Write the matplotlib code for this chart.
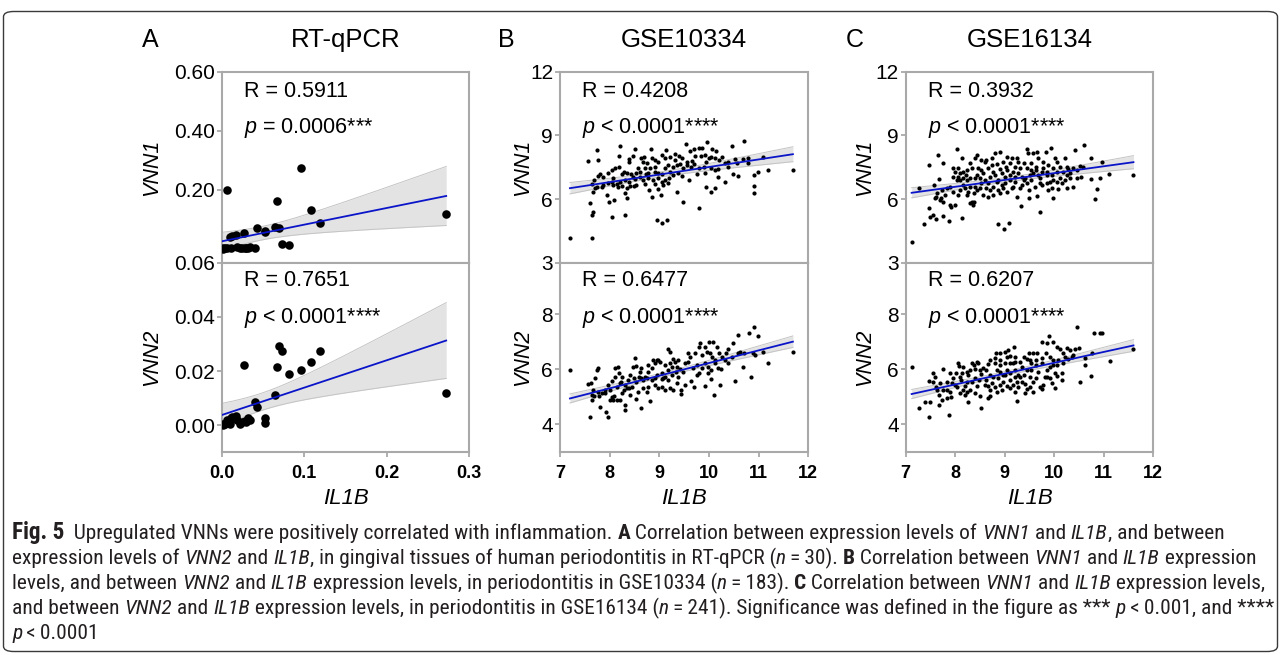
import numpy as np
import matplotlib
matplotlib.use("Agg")
import matplotlib.pyplot as plt
from matplotlib import font_manager
from matplotlib.patches import FancyBboxPatch

plt.rcParams['font.family'] = ['Liberation Sans', 'DejaVu Sans']
plt.rcParams['mathtext.fontset'] = 'custom'
plt.rcParams['mathtext.it'] = 'Liberation Sans:italic'
plt.rcParams['mathtext.rm'] = 'Liberation Sans'

# ---------------- data ----------------
panel_letters = ["A", "B", "C"]
panel_titles = ["RT-qPCR", "GSE10334", "GSE16134"]
r_top = ["R = 0.5911", "R = 0.4208", "R = 0.3932"]
p_top = ["$p$ = 0.0006***", "$p$ < 0.0001****", "$p$ < 0.0001****"]
r_bot = ["R = 0.7651", "R = 0.6477", "R = 0.6207"]
p_bot = ["$p$ < 0.0001****", "$p$ < 0.0001****", "$p$ < 0.0001****"]

# Panel A (RT-qPCR, n = 30)
il1b_a = [0.001, 0.004, 0.006, 0.007, 0.010, 0.011, 0.013, 0.017, 0.018, 0.022,
          0.027, 0.028, 0.029, 0.032, 0.034, 0.040, 0.043, 0.052, 0.053, 0.064,
          0.067, 0.070, 0.073, 0.081, 0.096, 0.108, 0.119, 0.272, 0.002, 0.025]
vnn1_a = [0.003, 0.005, 0.004, 0.200, 0.042, 0.003, 0.045, 0.048, 0.006, 0.003,
          0.056, 0.003, 0.005, 0.003, 0.008, 0.004, 0.071, 0.059, 0.062, 0.076,
          0.163, 0.071, 0.018, 0.013, 0.273, 0.132, 0.089, 0.120, 0.002, 0.004]
vnn2_a = [0.0000, 0.0003, 0.0018, 0.0010, 0.0006, 0.0027, 0.0030, 0.0033, 0.0020, 0.0006,
          0.0223, 0.0015, 0.0010, 0.0027, 0.0020, 0.0086, 0.0067, 0.0028, 0.0009, 0.0110,
          0.0215, 0.0292, 0.0274, 0.0190, 0.0202, 0.0233, 0.0274, 0.0117, 0.0005, 0.0012]

# Panel B top (GSE10334: IL1B, VNN1)
gse10334_vnn1 = [
    (8.21, 8.52), (8.51, 8.36), (8.83, 8.36), (9.13, 8.31), (9.54, 8.58), (9.70, 8.36), (9.80, 8.39),
    (9.85, 8.42), (9.97, 8.67), (10.07, 8.36), (10.14, 8.28), (10.47, 8.52), (10.71, 8.74), (7.74, 8.31),
    (7.57, 7.81), (7.76, 7.84), (8.18, 8.05), (8.39, 7.89), (8.38, 7.76), (8.48, 8.05), (8.70, 8.00),
    (8.68, 7.76), (8.85, 7.92), (8.91, 7.84), (9.05, 8.08), (9.11, 7.95), (9.22, 8.00), (9.32, 8.11),
    (9.40, 8.05), (9.45, 7.95), (9.62, 8.27), (9.65, 7.79), (9.72, 8.05), (9.83, 8.05), (9.92, 8.08),
    (10.00, 7.92), (10.05, 8.00), (10.12, 7.95), (10.20, 7.84), (10.26, 8.00), (10.32, 7.68), (10.39, 7.76),
    (10.52, 7.89), (10.68, 7.89), (10.78, 7.92), (11.09, 8.00), (10.39, 7.53), (10.56, 7.68), (10.79, 7.68),
    (8.11, 7.48), (8.18, 7.53), (8.28, 7.29), (8.34, 7.21), (8.43, 7.17), (8.54, 7.21), (8.61, 7.29),
    (8.71, 7.45), (8.73, 7.17), (8.81, 7.45), (8.91, 7.53), (8.98, 7.21), (9.05, 7.17), (9.11, 7.45),
    (9.22, 7.29), (9.28, 7.53), (9.35, 7.61), (9.42, 7.64), (9.48, 7.45), (9.55, 7.61), (9.63, 7.53),
    (9.69, 7.64), (9.79, 7.48), (9.89, 7.53), (9.95, 7.73), (10.04, 7.45), (10.12, 7.37), (10.19, 7.42),
    (8.04, 7.37), (7.97, 7.21), (7.87, 7.06), (7.77, 7.10), (7.69, 6.90), (7.65, 6.70), (7.67, 6.35),
    (7.74, 6.59), (7.84, 6.59), (7.96, 6.74), (8.04, 6.79), (8.14, 6.70), (8.21, 6.82), (8.31, 6.90),
    (8.39, 6.79), (8.51, 6.95), (8.61, 7.06), (8.68, 6.90), (8.78, 6.98), (8.88, 6.90), (8.98, 6.98),
    (9.05, 6.82), (9.11, 6.90), (9.20, 6.98), (9.28, 7.14), (9.38, 7.21), (9.45, 7.10), (9.60, 6.90),
    (9.75, 7.17), (9.92, 7.21), (9.95, 6.59), (10.04, 6.35), (10.13, 6.54), (10.19, 7.06), (10.32, 6.79),
    (10.49, 7.17), (10.59, 7.10), (10.91, 7.14), (10.99, 7.29), (11.18, 7.37), (11.69, 7.37), (10.90, 6.62),
    (10.91, 6.27), (8.07, 6.66), (8.16, 6.59), (8.34, 6.51), (8.31, 6.27), (8.34, 6.04), (8.50, 6.63),
    (8.54, 6.66), (8.71, 6.70), (8.79, 6.43), (8.85, 6.11), (8.91, 6.70), (8.98, 6.48), (9.03, 6.19),
    (9.08, 6.66), (9.18, 6.74), (9.35, 6.35), (9.48, 5.88), (9.79, 5.57), (7.94, 6.19), (7.99, 5.88),
    (8.09, 5.96), (7.60, 5.80), (7.67, 5.38), (7.65, 5.25), (8.05, 5.17), (8.31, 5.25), (8.95, 5.02),
    (9.05, 4.86), (9.15, 5.02), (7.20, 4.15), (7.65, 4.18), (7.81, 7.17), (8.24, 7.17), (8.78, 7.21),
    (8.91, 7.29), (8.58, 7.48), (8.75, 7.68), (8.98, 7.76), (9.18, 7.61), (9.32, 7.84), (9.55, 7.76),
    (8.64, 7.92), (8.46, 7.06), (8.24, 6.62), (8.41, 6.63), (8.07, 6.98), (7.87, 6.66), (7.71, 6.51),
]

# Panel B bottom (GSE10334: IL1B, VNN2)
gse10334_vnn2 = [
    (7.20, 5.99), (10.91, 7.53), (10.81, 7.31), (10.99, 7.21), (10.58, 7.25), (11.09, 6.64), (11.69, 6.64),
    (11.18, 6.22), (10.84, 5.71), (10.52, 5.59), (10.69, 6.07), (10.93, 6.52), (10.89, 6.61), (10.71, 6.61),
    (10.48, 6.97), (10.38, 6.73), (10.34, 6.58), (10.39, 6.22), (10.26, 6.46), (10.20, 6.58), (10.16, 6.82),
    (10.09, 7.01), (10.00, 7.01), (9.82, 6.94), (9.79, 6.82), (9.91, 6.80), (10.02, 6.58), (9.97, 6.64),
    (10.07, 6.46), (10.12, 6.34), (10.19, 6.04), (10.22, 5.43), (10.11, 5.07), (10.05, 5.64), (9.99, 5.85),
    (9.91, 5.39), (9.79, 5.85), (9.64, 5.59), (9.67, 6.04), (9.75, 6.16), (9.62, 6.46), (9.57, 6.58),
    (9.52, 6.22), (9.48, 5.91), (9.42, 6.00), (9.37, 5.73), (9.38, 6.34), (9.28, 6.36), (9.22, 6.64),
    (9.18, 6.73), (9.25, 6.07), (9.33, 5.91), (9.18, 5.97), (9.11, 6.16), (9.05, 5.85), (9.01, 6.28),
    (8.95, 6.34), (8.91, 6.22), (8.85, 6.04), (8.78, 5.91), (8.71, 5.73), (8.68, 5.61), (8.59, 5.73),
    (8.54, 5.55), (8.46, 6.10), (8.51, 6.40), (8.41, 5.79), (8.36, 5.61), (8.31, 5.43), (8.28, 5.25),
    (8.24, 5.15), (8.21, 5.49), (8.14, 5.35), (8.09, 5.01), (8.05, 4.98), (8.01, 5.25), (8.04, 5.59),
    (8.11, 5.73), (8.18, 5.85), (8.23, 5.55), (8.11, 6.04), (8.16, 6.10), (7.76, 6.04), (7.74, 5.97),
    (7.62, 5.51), (7.57, 5.47), (7.71, 5.67), (7.67, 5.25), (7.65, 5.07), (7.77, 5.19), (7.79, 5.01),
    (7.84, 5.15), (7.91, 5.25), (7.97, 5.43), (8.01, 4.88), (8.07, 4.88), (8.14, 4.88), (8.21, 4.88),
    (8.31, 4.70), (8.31, 4.52), (8.54, 4.91), (8.63, 4.58), (8.81, 4.86), (8.75, 5.19), (8.58, 5.19),
    (8.41, 5.07), (8.38, 5.31), (7.91, 5.13), (7.81, 4.64), (7.92, 4.46), (7.97, 4.28), (7.60, 4.28),
    (7.64, 4.88), (7.69, 5.01), (8.54, 6.12), (8.64, 5.67), (8.85, 5.61), (8.91, 5.43), (8.98, 5.31),
    (9.05, 5.37), (9.11, 5.25), (9.22, 5.31), (9.28, 5.25), (9.44, 5.25), (9.44, 5.10), (9.35, 5.49),
    (9.18, 5.61), (9.08, 5.67), (8.95, 5.79), (8.88, 6.34), (8.98, 6.34), (8.75, 5.67), (8.68, 5.31),
    (8.78, 5.37), (9.25, 5.79), (9.05, 5.64), (9.52, 5.43), (9.69, 5.37), (9.75, 5.79), (9.85, 6.04),
    (9.92, 6.22), (9.99, 6.10), (10.04, 5.97), (10.13, 6.22), (10.24, 6.00), (10.32, 6.34), (10.46, 6.46),
    (10.58, 6.58), (10.62, 6.64), (9.85, 6.52), (9.72, 6.61), (9.58, 6.28), (9.35, 6.10), (9.32, 6.28),
    (9.22, 6.22), (9.11, 5.73), (8.91, 5.67), (8.78, 6.16), (8.64, 6.04), (8.61, 5.91), (8.49, 5.67),
    (8.44, 5.37), (8.34, 5.31), (8.24, 5.73),
]

# Panel C top (GSE16134: IL1B, VNN1)
gse16134_vnn1 = [
    (7.12, 3.96), (7.26, 6.51), (7.37, 4.81), (7.48, 7.61), (7.49, 5.17), (7.48, 5.60), (7.57, 6.66),
    (7.59, 6.04), (7.61, 5.06), (7.66, 8.08), (7.68, 6.95), (7.71, 6.07), (7.76, 7.68), (7.76, 5.88),
    (7.79, 6.19), (7.88, 4.97), (7.91, 5.64), (7.99, 5.72), (8.04, 8.36), (8.13, 7.92), (8.13, 5.09),
    (8.30, 5.80), (8.35, 5.72), (8.29, 7.68), (8.40, 7.92), (8.43, 8.08), (8.63, 7.84), (8.80, 8.16),
    (8.86, 4.81), (8.99, 4.59), (9.09, 4.86), (8.90, 8.23), (9.04, 8.00), (9.24, 7.92), (9.44, 8.36),
    (9.46, 8.16), (9.58, 8.16), (9.66, 8.20), (9.83, 8.20), (9.93, 8.42), (10.01, 7.92), (10.22, 7.92),
    (10.42, 8.31), (10.61, 8.55), (10.75, 7.95), (10.96, 7.76), (11.11, 7.17), (11.60, 7.14), (10.92, 7.01),
    (10.75, 6.95), (10.86, 6.48), (10.82, 6.00), (10.55, 7.06), (10.52, 7.57), (10.38, 7.45), (10.28, 7.42),
    (10.25, 7.53), (10.32, 7.21), (10.45, 6.98), (10.22, 6.90), (10.15, 6.74), (10.25, 6.51), (10.08, 6.48),
    (9.95, 6.51), (9.98, 6.07), (9.88, 6.43), (9.85, 6.74), (9.66, 6.16), (9.48, 6.04), (9.32, 5.68),
    (9.24, 6.11), (9.72, 5.38), (9.75, 7.29), (9.68, 7.14), (9.63, 7.53), (9.54, 7.68), (9.44, 7.45),
    (9.38, 7.68), (9.27, 7.76), (9.21, 7.53), (9.17, 7.29), (9.11, 7.68), (9.02, 7.53), (8.97, 7.76),
    (8.90, 7.42), (8.84, 7.64), (8.74, 7.61), (8.67, 7.48), (8.60, 7.76), (8.53, 7.37), (8.47, 7.45),
    (8.43, 7.14), (8.33, 7.45), (8.23, 7.37), (8.16, 7.29), (8.10, 7.21), (7.99, 7.26), (7.96, 7.06),
    (8.03, 6.90), (8.10, 6.90), (8.16, 6.98), (8.23, 6.90), (8.30, 6.98), (8.40, 6.98), (8.50, 7.01),
    (8.60, 6.90), (8.67, 6.74), (8.70, 7.06), (8.80, 7.14), (8.87, 6.90), (8.94, 7.21), (9.00, 7.06),
    (9.11, 7.14), (9.21, 7.06), (9.27, 7.21), (9.34, 7.06), (9.41, 6.98), (9.51, 7.14), (9.58, 7.21),
    (9.64, 7.37), (9.78, 7.45), (9.88, 7.61), (9.98, 7.45), (10.05, 7.29), (10.12, 7.53), (10.18, 7.29),
    (9.95, 7.14), (9.85, 7.14), (9.71, 6.98), (9.44, 6.74), (9.34, 6.66), (9.21, 6.82), (9.11, 6.90),
    (9.00, 6.74), (8.94, 6.66), (8.87, 6.43), (8.77, 6.59), (8.70, 6.43), (8.67, 6.11), (8.57, 6.19),
    (8.50, 6.51), (8.43, 6.43), (8.37, 6.27), (8.26, 6.35), (8.20, 6.51), (8.10, 6.43), (8.06, 6.19),
    (7.96, 6.35), (7.89, 6.59), (7.83, 6.54), (7.73, 6.43), (7.63, 6.27), (7.61, 6.11), (7.69, 5.96),
    (8.23, 6.19), (8.33, 5.88), (8.77, 6.19), (8.90, 6.27), (9.04, 6.35), (9.14, 6.51), (9.31, 6.51),
    (9.48, 6.43), (9.61, 6.59), (9.75, 6.66), (9.91, 6.82), (10.05, 6.82), (10.32, 6.98), (10.38, 6.59),
    (8.06, 7.06), (8.16, 6.66), (8.30, 6.59), (8.40, 6.59), (8.53, 6.74), (8.63, 6.51), (8.84, 6.82),
    (8.97, 6.51), (9.17, 6.59), (9.38, 6.90), (9.54, 6.90), (9.71, 6.74), (9.85, 7.29), (9.98, 6.90),
    (10.12, 6.98), (10.25, 7.14), (10.45, 7.37), (10.59, 7.53), (7.96, 7.45), (8.06, 7.45), (8.21, 7.14),
    (8.57, 7.21), (8.77, 7.29), (9.04, 7.37), (9.31, 7.45), (9.54, 7.37), (9.78, 7.76), (10.05, 7.76),
    (9.68, 7.92), (9.14, 7.92), (8.74, 7.92), (8.53, 7.84), (7.89, 5.72), (7.56, 5.25), (7.76, 5.22),
    (8.37, 5.88),
]

# Panel C bottom (GSE16134: IL1B, VNN2)
gse16134_vnn2 = [
    (7.12, 6.07), (7.26, 4.58), (7.39, 4.82), (7.48, 4.28), (7.49, 4.82), (7.56, 5.88), (7.48, 5.59),
    (7.56, 5.55), (7.61, 5.34), (7.69, 5.51), (7.75, 6.00), (7.68, 5.07), (7.73, 4.88), (7.68, 4.70),
    (7.88, 4.34), (7.83, 5.25), (7.89, 5.19), (7.91, 4.98), (7.99, 5.43), (8.06, 6.22), (8.08, 6.12),
    (8.02, 5.85), (8.13, 5.88), (8.11, 5.61), (8.16, 5.25), (8.20, 5.07), (8.26, 4.82), (8.33, 6.22),
    (8.37, 6.16), (8.43, 6.28), (8.47, 6.24), (8.30, 5.97), (8.26, 5.79), (8.23, 5.55), (8.20, 5.39),
    (8.33, 5.55), (8.40, 5.67), (8.49, 5.61), (8.53, 5.83), (8.50, 5.01), (8.53, 4.58), (8.67, 4.94),
    (8.70, 5.03), (8.60, 5.43), (8.67, 6.19), (8.70, 6.34), (8.82, 6.58), (8.90, 6.34), (9.00, 6.64),
    (9.07, 6.70), (9.19, 6.82), (9.25, 4.86), (9.31, 6.28), (9.21, 6.46), (9.11, 6.22), (9.04, 5.97),
    (8.97, 5.79), (8.90, 5.91), (8.84, 5.97), (8.77, 5.73), (8.74, 5.51), (8.80, 5.34), (8.90, 5.43),
    (8.97, 5.55), (9.04, 5.39), (9.11, 5.31), (9.17, 5.43), (9.24, 5.55), (9.31, 5.73), (9.38, 5.79),
    (9.44, 5.97), (9.51, 5.73), (9.41, 5.47), (9.44, 5.27), (9.52, 5.37), (9.58, 5.55), (9.64, 5.67),
    (9.71, 5.37), (9.75, 5.27), (9.77, 5.43), (9.81, 5.73), (9.85, 5.97), (9.91, 6.10), (9.97, 6.16),
    (10.01, 5.88), (10.05, 5.76), (10.01, 5.31), (9.95, 5.51), (9.64, 6.16), (9.58, 6.58), (9.66, 6.61),
    (9.48, 6.58), (9.44, 6.36), (9.75, 7.01), (9.85, 6.94), (9.90, 7.21), (9.98, 7.01), (10.05, 6.82),
    (10.12, 6.73), (10.18, 6.58), (10.25, 6.76), (10.32, 6.70), (10.42, 6.73), (10.49, 6.76), (10.38, 6.52),
    (10.28, 6.36), (10.18, 6.22), (10.15, 5.85), (10.15, 5.61), (10.08, 6.34), (9.98, 6.34), (10.05, 6.16),
    (9.83, 6.58), (9.75, 6.40), (9.75, 6.22), (9.64, 6.34), (9.54, 6.22), (9.34, 6.10), (9.21, 5.97),
    (9.27, 5.79), (9.11, 5.85), (9.00, 6.22), (8.90, 6.16), (8.80, 6.22), (8.63, 5.97), (8.57, 6.04),
    (8.50, 5.97), (8.40, 6.00), (8.63, 5.61), (8.70, 5.79), (8.87, 5.67), (9.21, 5.73), (9.34, 5.55),
    (9.54, 5.97), (9.68, 5.91), (9.85, 5.73), (9.91, 5.67), (10.45, 7.53), (10.81, 7.33), (10.92, 7.33),
    (10.96, 7.31), (10.77, 6.61), (10.62, 6.16), (10.75, 5.76), (10.52, 5.55), (11.12, 6.31), (11.60, 6.73),
    (10.62, 6.40), (10.35, 6.46), (10.22, 6.46), (9.91, 6.46), (7.96, 5.67), (8.03, 5.37), (7.76, 5.25),
    (8.10, 5.13), (8.23, 5.19), (8.30, 5.25), (8.40, 5.15), (7.83, 4.94), (7.64, 5.25), (7.59, 5.73),
    (7.89, 5.85), (8.80, 6.40), (8.90, 6.58), (9.11, 6.48), (9.04, 6.46), (9.17, 6.22), (9.38, 6.46),
    (9.51, 6.34), (9.21, 6.28), (8.94, 5.25), (8.84, 5.19), (8.67, 5.39), (8.70, 5.25), (8.43, 5.39),
    (9.41, 5.13), (9.58, 5.19), (9.21, 5.19), (9.11, 5.61), (9.00, 5.79), (9.27, 5.37), (8.10, 5.73),
    (7.93, 5.51), (7.83, 5.55), (8.23, 5.91), (8.16, 6.10),
]

x_ticks = [[0.0, 0.1, 0.2, 0.3], [7, 8, 9, 10, 11, 12], [7, 8, 9, 10, 11, 12]]
x_ticklabels = [["0.0", "0.1", "0.2", "0.3"], ["7", "8", "9", "10", "11", "12"],
                ["7", "8", "9", "10", "11", "12"]]
x_lims = [(0.0, 0.3), (7, 12), (7, 12)]
top_yticks = [[0.20, 0.40, 0.60], [3, 6, 9, 12], [3, 6, 9, 12]]
top_yticklabels = [["0.20", "0.40", "0.60"], ["3", "6", "9", "12"], ["3", "6", "9", "12"]]
top_ylims = [(-0.046, 0.60), (3, 12), (3, 12)]
bot_yticks = [[0.00, 0.02, 0.04, 0.06], [4, 6, 8], [4, 6, 8]]
bot_yticklabels = [["0.00", "0.02", "0.04", "0.06"], ["4", "6", "8"], ["4", "6", "8"]]
bot_ylims = [(-0.0098, 0.06), (3, 9.88), (3, 9.88)]
t_crit = [2.048, 1.973, 1.970]

b1 = np.array(gse10334_vnn1).T
b2 = np.array(gse10334_vnn2).T
c1 = np.array(gse16134_vnn1).T
c2 = np.array(gse16134_vnn2).T
top_data = [(np.array(il1b_a), np.array(vnn1_a)), (b1[0], b1[1]), (c1[0], c1[1])]
bot_data = [(np.array(il1b_a), np.array(vnn2_a)), (b2[0], b2[1]), (c2[0], c2[1])]
marker_sizes = [38, 9, 9]

# ---------------- layout ----------------
W, H = 1281, 655
fig = plt.figure(figsize=(W / 100, H / 100), dpi=100)
fig.patch.set_facecolor("white")

box = FancyBboxPatch((3.5 / W, 3.5 / H), (W - 7) / W, (H - 15) / H,
                     boxstyle="round,pad=0,rounding_size=0.008",
                     transform=fig.transFigure, facecolor="none",
                     edgecolor="#3a3a3a", linewidth=1.0)
fig.patches.append(box)

lefts_px = [221.7, 560.0, 905.7]
widths_px = [247.6, 248.3, 247.6]
ylabel_x_px = [152, 523, 865]
top_px, mid_px, bot_px = 71.7, 262.7, 451.7

spine_c = "#a9a9a9"


def style_axis(ax):
    for s in ax.spines.values():
        s.set_color(spine_c)
        s.set_linewidth(1.5)
    ax.tick_params(axis="both", direction="out", length=3.5, width=1.3,
                   color=spine_c, labelcolor="black")
    ax.tick_params(axis="y", labelsize=15, pad=1.5)
    ax.tick_params(axis="x", labelsize=13, pad=6)


def fit_band(ax, x, y, tval, ms):
    n = len(x)
    b, a = np.polyfit(x, y, 1)
    xs = np.linspace(x.min(), x.max(), 200)
    yh = a + b * xs
    s = np.sqrt(np.sum((y - (a + b * x)) ** 2) / (n - 2))
    se = s * np.sqrt(1.0 / n + (xs - x.mean()) ** 2 / np.sum((x - x.mean()) ** 2))
    ax.fill_between(xs, yh - tval * se, yh + tval * se, color="#e3e3e3", lw=0, zorder=1)
    ax.plot(xs, yh - tval * se, color="#c4c4c4", lw=0.7, zorder=1.5)
    ax.plot(xs, yh + tval * se, color="#c4c4c4", lw=0.7, zorder=1.5)
    ax.scatter(x, y, s=ms, color="black", linewidths=0, zorder=3)
    ax.plot(xs, yh, color="#0a14c8", lw=1.3, zorder=4)


for i in range(3):
    l = lefts_px[i] / W
    w = widths_px[i] / W
    ax_t = fig.add_axes([l, (H - mid_px) / H, w, (mid_px - top_px) / H])
    ax_b = fig.add_axes([l, (H - bot_px) / H, w, (bot_px - mid_px) / H])
    for ax in (ax_t, ax_b):
        style_axis(ax)
        ax.set_xlim(*x_lims[i])
        ax.set_xticks(x_ticks[i])
    ax_t.set_xticklabels([])
    ax_b.set_xticklabels(x_ticklabels[i], fontweight="bold")

    ax_t.set_ylim(*top_ylims[i])
    ax_t.set_yticks(top_yticks[i])
    ax_t.set_yticklabels(top_yticklabels[i])
    ax_b.set_ylim(*bot_ylims[i])
    ax_b.set_yticks(bot_yticks[i])
    ax_b.set_yticklabels(bot_yticklabels[i])

    fit_band(ax_t, top_data[i][0], top_data[i][1], t_crit[i], marker_sizes[i])
    fit_band(ax_b, bot_data[i][0], bot_data[i][1], t_crit[i], marker_sizes[i])
    ax_t.set_xlim(*x_lims[i]); ax_t.set_ylim(*top_ylims[i])
    ax_b.set_xlim(*x_lims[i]); ax_b.set_ylim(*bot_ylims[i])

    ax_t.text(0.09, 0.866, r_top[i], transform=ax_t.transAxes, fontsize=15.5, va="baseline")
    ax_t.text(0.09, 0.6775, p_top[i], transform=ax_t.transAxes, fontsize=15.5, va="baseline")
    ax_b.text(0.09, 0.877, r_bot[i], transform=ax_b.transAxes, fontsize=15.5, va="baseline")
    ax_b.text(0.09, 0.683, p_bot[i], transform=ax_b.transAxes, fontsize=15.5, va="baseline")

    yl = (ylabel_x_px[i] - lefts_px[i]) / widths_px[i]
    ax_t.text(yl, 0.5, "VNN1", transform=ax_t.transAxes, rotation=90, ha="center",
              va="center", fontsize=15.5, style="italic")
    ax_b.text(yl, 0.5, "VNN2", transform=ax_b.transAxes, rotation=90, ha="center",
              va="center", fontsize=15.5, style="italic")

    cx = (lefts_px[i] + widths_px[i] / 2) / W
    fig.text(cx, 0.2298, "IL1B", ha="center", va="baseline", fontsize=16, style="italic")
    fig.text(cx, 0.9287, panel_titles[i], ha="center", va="baseline", fontsize=18.5)

letter_x_px = [150.7, 506.7, 855.0]
for i in range(3):
    fig.text(letter_x_px[i] / W, 0.9287, panel_letters[i], ha="center", va="baseline", fontsize=18)

# ---------------- caption ----------------
names = {f.name for f in font_manager.fontManager.ttflist}
cap_family = next((n for n in ["Liberation Sans Narrow", "DejaVu Sans Condensed",
                               "Roboto Condensed", "Open Sans Condensed"] if n in names),
                  "Liberation Sans")

caption_lines = [
    [("Fig. 5", "B"), ("  Upregulated VNNs were positively correlated with inflammation. ", "r"), ("A", "b"),
     (" Correlation between expression levels of ", "r"), ("VNN1", "i"), (" and ", "r"), ("IL1B", "i"),
     (", and between", "r")],
    [("expression levels of ", "r"), ("VNN2", "i"), (" and ", "r"), ("IL1B", "i"),
     (", in gingival tissues of human periodontitis in RT-qPCR (", "r"), ("n", "i"), ("\u2009=\u200930). ", "r"),
     ("B", "b"), (" Correlation between ", "r"), ("VNN1", "i"), (" and ", "r"), ("IL1B", "i"),
     (" expression", "r")],
    [("levels, and between ", "r"), ("VNN2", "i"), (" and ", "r"), ("IL1B", "i"),
     (" expression levels, in periodontitis in GSE10334 (", "r"), ("n", "i"), ("\u2009=\u2009183). ", "r"),
     ("C", "b"), (" Correlation between ", "r"), ("VNN1", "i"), (" and ", "r"), ("IL1B", "i"),
     (" expression levels,", "r")],
    [("and between ", "r"), ("VNN2", "i"), (" and ", "r"), ("IL1B", "i"),
     (" expression levels, in periodontitis in GSE16134 (", "r"), ("n", "i"),
     ("\u2009=\u2009241). Significance was defined in the figure as *** ", "r"), ("p", "i"),
     ("\u2009<\u20090.001, and ****", "r")],
    [("p", "i"), ("\u2009<\u20090.0001", "r")],
]
caption_baselines_px = [539, 564, 589, 614, 639]

fig.canvas.draw()
renderer = fig.canvas.get_renderer()


def run_kw(style, size):
    kw = dict(fontsize=size, family=[cap_family, "DejaVu Sans"], color="#231f20")
    if style in ("b", "B"):
        kw["weight"] = "bold"
    if style == "B":
        kw["fontsize"] = size * 1.08
    if style == "i":
        kw["style"] = "italic"
    return kw


def measure(txt, kw):
    t = fig.text(0, 0, "X" + txt + "X", **kw)
    w1 = t.get_window_extent(renderer).width
    t.set_text("XX")
    w2 = t.get_window_extent(renderer).width
    t.remove()
    return w1 - w2


base = 10.0
widest = max(sum(measure(t, run_kw(s, base)) for t, s in caption_lines[k]) for k in (2, 3))
cap_size = base * (1255.0 / widest)

for line, ybase in zip(caption_lines, caption_baselines_px):
    x = 12.0
    for txt, st in line:
        kw = run_kw(st, cap_size)
        fig.text(x / W, (H - ybase) / H, txt, va="baseline", ha="left", **kw)
        x += measure(txt, kw)

fig.savefig("out.png", dpi=100, facecolor="white")
